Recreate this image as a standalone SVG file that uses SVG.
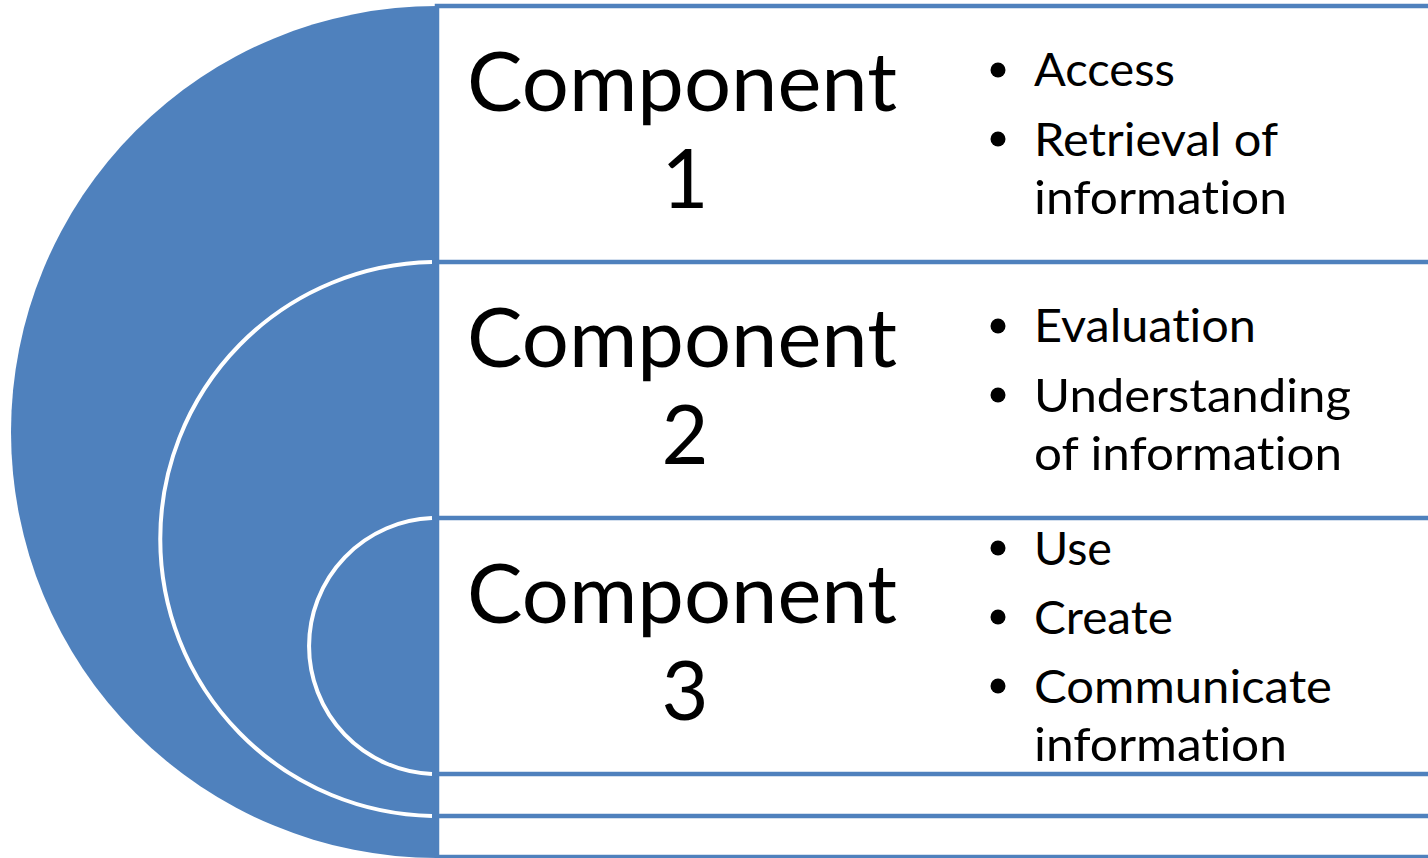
<svg xmlns="http://www.w3.org/2000/svg" width="1428" height="858" viewBox="0 0 1428 858">
<style>
.bg{fill:#ffffff}
.disk{fill:#4F81BD}
.ring{fill:none;stroke:#ffffff;stroke-width:4}
.box{fill:#ffffff;stroke:#4F81BD;stroke-width:4.5}
.title{font-family:Lato,"Open Sans",sans-serif;font-size:81px;fill:#000000;font-variant-ligatures:none}
.item{font-family:Lato,"Open Sans",sans-serif;font-size:47px;fill:#000000;font-variant-ligatures:none}
.dot{fill:#000000}
</style>
<rect class="bg" x="0" y="0" width="1428" height="858"/>
<g id="node1">
  <path class="disk" d="M437 6 A426 426 0 0 0 437 858 L440 858 L440 6 Z"/>
  <rect class="box" x="437" y="6" width="1100" height="851"/>
  <text class="title" x="467" y="111" textLength="430" lengthAdjust="spacingAndGlyphs">Component</text>
  <text class="title" x="685" y="208" text-anchor="middle">1</text>
  <circle class="dot" cx="998" cy="70" r="7.5"/>
  <text class="item" x="1034" y="86" textLength="141" lengthAdjust="spacingAndGlyphs">Access</text>
  <circle class="dot" cx="998" cy="139" r="7.5"/>
  <text class="item" x="1034" y="156" textLength="244" lengthAdjust="spacingAndGlyphs">Retrieval of</text>
  <text class="item" x="1034" y="214" textLength="253" lengthAdjust="spacingAndGlyphs">information</text>
</g>
<g id="node2">
  <path class="disk" d="M437 262 A277 277 0 0 0 437 816 Z"/>
  <path class="ring" d="M432 262.05 A277 277 0 0 0 432 815.95"/>
  <rect class="box" x="437" y="262" width="1100" height="554"/>
  <text class="title" x="467" y="367" textLength="430" lengthAdjust="spacingAndGlyphs">Component</text>
  <text class="title" x="685" y="464" text-anchor="middle">2</text>
  <circle class="dot" cx="998" cy="326" r="7.5"/>
  <text class="item" x="1034" y="342" textLength="222" lengthAdjust="spacingAndGlyphs">Evaluation</text>
  <circle class="dot" cx="998" cy="395" r="7.5"/>
  <text class="item" x="1034" y="412" textLength="317" lengthAdjust="spacingAndGlyphs">Understanding</text>
  <text class="item" x="1034" y="470" textLength="308" lengthAdjust="spacingAndGlyphs">of information</text>
</g>
<g id="node3">
  <path class="disk" d="M437 518 A128 128 0 0 0 437 774 Z"/>
  <path class="ring" d="M432 518.1 A128 128 0 0 0 432 773.9"/>
  <rect class="box" x="437" y="518" width="1100" height="256"/>
  <text class="title" x="467" y="623" textLength="430" lengthAdjust="spacingAndGlyphs">Component</text>
  <text class="title" x="685" y="720" text-anchor="middle">3</text>
  <circle class="dot" cx="998" cy="548" r="7.5"/>
  <text class="item" x="1034" y="565" textLength="78" lengthAdjust="spacingAndGlyphs">Use</text>
  <circle class="dot" cx="998" cy="617" r="7.5"/>
  <text class="item" x="1034" y="634" textLength="139" lengthAdjust="spacingAndGlyphs">Create</text>
  <circle class="dot" cx="998" cy="686" r="7.5"/>
  <text class="item" x="1034" y="703" textLength="298" lengthAdjust="spacingAndGlyphs">Communicate</text>
  <text class="item" x="1034" y="761" textLength="253" lengthAdjust="spacingAndGlyphs">information</text>
</g>
</svg>
